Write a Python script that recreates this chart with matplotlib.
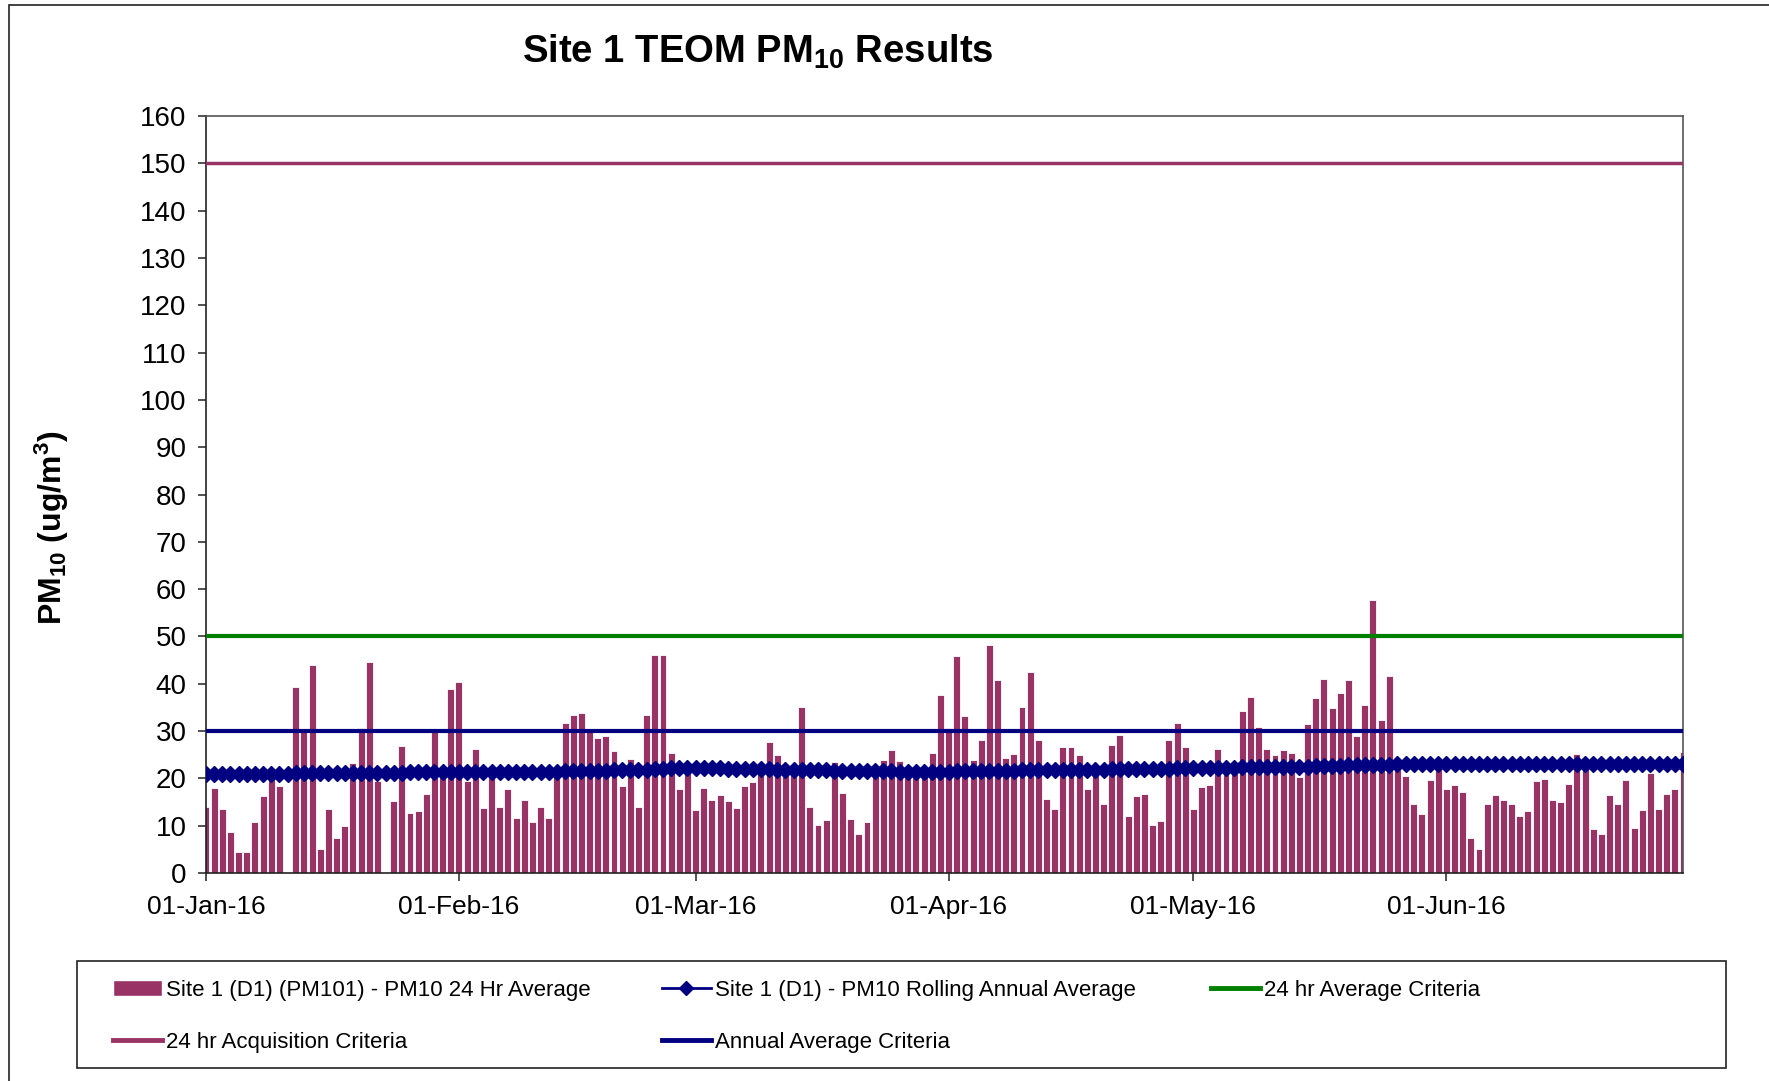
import numpy as np
import pandas as pd
import matplotlib
matplotlib.use("Agg")
import matplotlib.pyplot as plt
import matplotlib.dates as mdates
from matplotlib.patches import Rectangle
from matplotlib.lines import Line2D

plt.rcParams['font.family'] = ['Liberation Sans', 'DejaVu Sans']
plt.rcParams['mathtext.fontset'] = 'custom'
plt.rcParams['mathtext.bf'] = 'Liberation Sans:bold'
plt.rcParams['mathtext.rm'] = 'Liberation Sans'
plt.rcParams['mathtext.it'] = 'Liberation Sans:italic'

start_date = "2016-01-01"
n_days = 182
nan = np.nan

# Daily PM10 24 hr average (ug/m3), 01-Jan-16 .. 30-Jun-16
pm10_daily = [
    # January
    14.0, 17.9, 13.5, 8.7, 4.5, 4.5, 10.7, 16.2, 20.0, 18.4,
    nan, 39.3, 29.9, 44.0, 5.1, 13.5, 7.3, 10.0, 23.2, 30.6,
    44.7, 19.5, nan, 15.3, 26.9, 12.7, 13.2, 16.7, 29.7, 21.0,
    38.8,
    # February
    40.3, 19.4, 26.3, 13.7, 21.0, 14.0, 17.7, 11.7, 15.5, 10.7,
    14.0, 11.7, 21.0, 31.6, 33.3, 33.8, 29.8, 28.6, 28.9, 25.8,
    18.4, 24.2, 14.0, 33.3, 46.0, 46.0, 25.4, 17.7, 21.5,
    # March
    13.3, 17.9, 15.5, 16.5, 15.3, 13.7, 18.4, 19.2, 23.2, 27.6,
    24.9, 21.5, 22.0, 35.1, 14.0, 10.2, 11.3, 23.4, 16.9, 11.5,
    8.3, 10.7, 21.5, 23.9, 26.1, 23.7, 21.2, 21.0, 21.5, 25.4,
    37.6,
    # April
    30.6, 45.8, 33.1, 23.9, 28.2, 48.2, 40.8, 24.4, 25.2, 35.1,
    42.5, 28.2, 15.7, 13.5, 26.6, 26.6, 24.9, 17.7, 21.0, 14.5,
    27.1, 29.1, 12.0, 16.2, 16.7, 10.2, 11.0, 28.2, 31.6, 26.6,
    # May
    13.5, 18.2, 18.7, 26.3, 21.5, 21.5, 34.3, 37.1, 30.9, 26.3,
    24.9, 26.1, 25.4, 20.2, 31.4, 36.9, 41.1, 34.8, 38.1, 40.8,
    28.9, 35.6, 57.6, 32.3, 41.7, 22.0, 20.4, 14.5, 12.5, 19.7,
    22.0,
    # June
    17.7, 18.7, 17.2, 7.3, 5.1, 14.5, 16.5, 15.5, 14.5, 12.0,
    13.0, 19.4, 19.9, 15.5, 15.0, 18.9, 25.1, 23.0, 9.3, 8.3,
    16.5, 14.5, 19.7, 9.5, 13.3, 21.2, 13.5, 16.7, 17.7, 25.6,
]

# Rolling annual average (ug/m3), one value per day
rolling_avg = [
    # January
    21.0, 21.0, 21.0, 21.0, 21.0, 21.0, 21.0, 21.0, 21.0, 21.0,
    21.0, 21.1, 21.1, 21.1, 21.1, 21.1, 21.1, 21.1, 21.1, 21.2,
    21.2, 21.2, 21.2, 21.2, 21.2, 21.3, 21.3, 21.3, 21.3, 21.3,
    21.4,
    # February
    21.4, 21.4, 21.4, 21.4, 21.4, 21.4, 21.4, 21.4, 21.4, 21.4,
    21.4, 21.4, 21.4, 21.5, 21.5, 21.5, 21.6, 21.6, 21.6, 21.7,
    21.7, 21.7, 21.8, 21.8, 21.9, 22.0, 22.1, 22.1, 22.2,
    # March
    22.2, 22.2, 22.1, 22.1, 22.0, 22.0, 22.0, 21.9, 21.9, 21.9,
    21.8, 21.8, 21.8, 21.8, 21.7, 21.7, 21.7, 21.6, 21.6, 21.6,
    21.5, 21.5, 21.5, 21.5, 21.5, 21.4, 21.4, 21.4, 21.4, 21.4,
    21.4,
    # April
    21.4, 21.5, 21.5, 21.5, 21.5, 21.6, 21.6, 21.6, 21.6, 21.7,
    21.7, 21.7, 21.7, 21.7, 21.7, 21.8, 21.8, 21.8, 21.8, 21.8,
    21.9, 21.9, 21.9, 21.9, 22.0, 22.0, 22.0, 22.0, 22.1, 22.1,
    # May
    22.1, 22.1, 22.2, 22.2, 22.2, 22.2, 22.3, 22.3, 22.3, 22.4,
    22.4, 22.4, 22.5, 22.5, 22.5, 22.6, 22.6, 22.7, 22.7, 22.8,
    22.8, 22.8, 22.9, 22.9, 22.9, 23.0, 23.0, 23.0, 23.0, 23.0,
    23.0,
    # June
    23.0, 23.0, 23.0, 23.0, 23.0, 23.0, 23.0, 23.0, 23.0, 23.0,
    23.0, 23.0, 23.0, 23.0, 23.0, 23.0, 23.0, 23.0, 23.0, 23.0,
    23.0, 23.0, 23.0, 23.0, 23.0, 23.0, 23.0, 23.0, 23.0, 23.0,
]

criteria_24hr = 50
criteria_acquisition = 150
criteria_annual = 30

series_labels = [
    "Site 1 (D1) (PM101) - PM10 24 Hr Average",
    "Site 1 (D1) - PM10 Rolling Annual Average",
    "24 hr Average Criteria",
    "24 hr Acquisition Criteria",
    "Annual Average Criteria",
]
y_ticks = list(range(0, 161, 10))
x_tick_dates = ["2016-01-01", "2016-02-01", "2016-03-01", "2016-04-01", "2016-05-01", "2016-06-01"]

PLUM = "#993366"
NAVY = "#000080"
GREEN = "#008000"

dates = pd.date_range(start_date, periods=n_days, freq="D")

W, H = 1769, 1081
fig = plt.figure(figsize=(W / 100, H / 100), dpi=100)
ax = fig.add_axes([206 / W, 1 - 873 / H, (1683 - 206) / W, (873 - 116) / H])

ax.bar(dates, pm10_daily, width=0.85, color=PLUM, edgecolor="white", linewidth=0.6, zorder=2)
ax.plot(dates, rolling_avg, color=NAVY, marker="D", markersize=8.5, linewidth=2, zorder=4)
ax.axhline(criteria_24hr, color=GREEN, linewidth=3, zorder=3)
ax.axhline(criteria_acquisition, color=PLUM, linewidth=2.5, zorder=3)
ax.axhline(criteria_annual, color=NAVY, linewidth=3, zorder=3)

ax.set_xlim(dates[0], dates[-1])
ax.set_ylim(0, 160)
ax.set_yticks(y_ticks)
ax.set_xticks(pd.to_datetime(x_tick_dates))
ax.xaxis.set_major_formatter(mdates.DateFormatter("%d-%b-%y"))
ax.tick_params(axis="both", direction="out", length=6, width=1.2, color="#333333")
ax.tick_params(axis="y", labelsize=20, pad=8)
ax.tick_params(axis="x", labelsize=19, pad=10)
for s in ax.spines.values():
    s.set_color("#555555")
    s.set_linewidth(1.2)
ax.spines["left"].set_color("#222222")
ax.spines["bottom"].set_color("#222222")

fig.text(758 / W, 1 - 52 / H, r"Site 1 TEOM PM$_{\mathbf{10}}$ Results", ha="center", va="center",
         fontsize=27.5, fontweight="bold")
fig.text(52 / W, 1 - 528 / H, r"PM$_{\mathbf{10}}$ (ug/m$^{\mathbf{3}}$)", ha="center", va="center",
         rotation=90, fontsize=23, fontweight="bold")

# Outer chart border
fig.patches.append(Rectangle((9 / W, -0.01), 1.02, 1 - 5 / H + 0.01, transform=fig.transFigure,
                             fill=False, edgecolor="#222222", linewidth=1.2))

# Legend frame
lx0, lx1, ly0, ly1 = 77, 1726, 961, 1068
fig.patches.append(Rectangle((lx0 / W, 1 - ly1 / H), (lx1 - lx0) / W, (ly1 - ly0) / H,
                             transform=fig.transFigure, fill=False, edgecolor="#222222", linewidth=1.2))

h_bar = Rectangle((0, 0), 1, 1, facecolor=PLUM, edgecolor="white")
h_roll = Line2D([], [], color=NAVY, marker="D", markersize=7, linewidth=2)
h_green = Line2D([], [], color=GREEN, linewidth=3.5)
h_acq = Line2D([], [], color=PLUM, linewidth=3.5)
h_ann = Line2D([], [], color=NAVY, linewidth=3.5)

leg_kw = dict(fontsize=16, frameon=False, handlelength=2.2, handletextpad=0.2,
              labelspacing=1.4, borderpad=0, borderaxespad=0, loc="upper left")
col_x = [113, 662, 1211]
row1_top = 980
cols = [([h_bar, h_acq], [series_labels[0], series_labels[3]]),
        ([h_roll, h_ann], [series_labels[1], series_labels[4]]),
        ([h_green], [series_labels[2]])]
for cx, (hs, ls) in zip(col_x, cols):
    lg = fig.legend(hs, ls, bbox_to_anchor=(cx / W, 1 - row1_top / H), **leg_kw)

fig.savefig("out.png", dpi=100)
